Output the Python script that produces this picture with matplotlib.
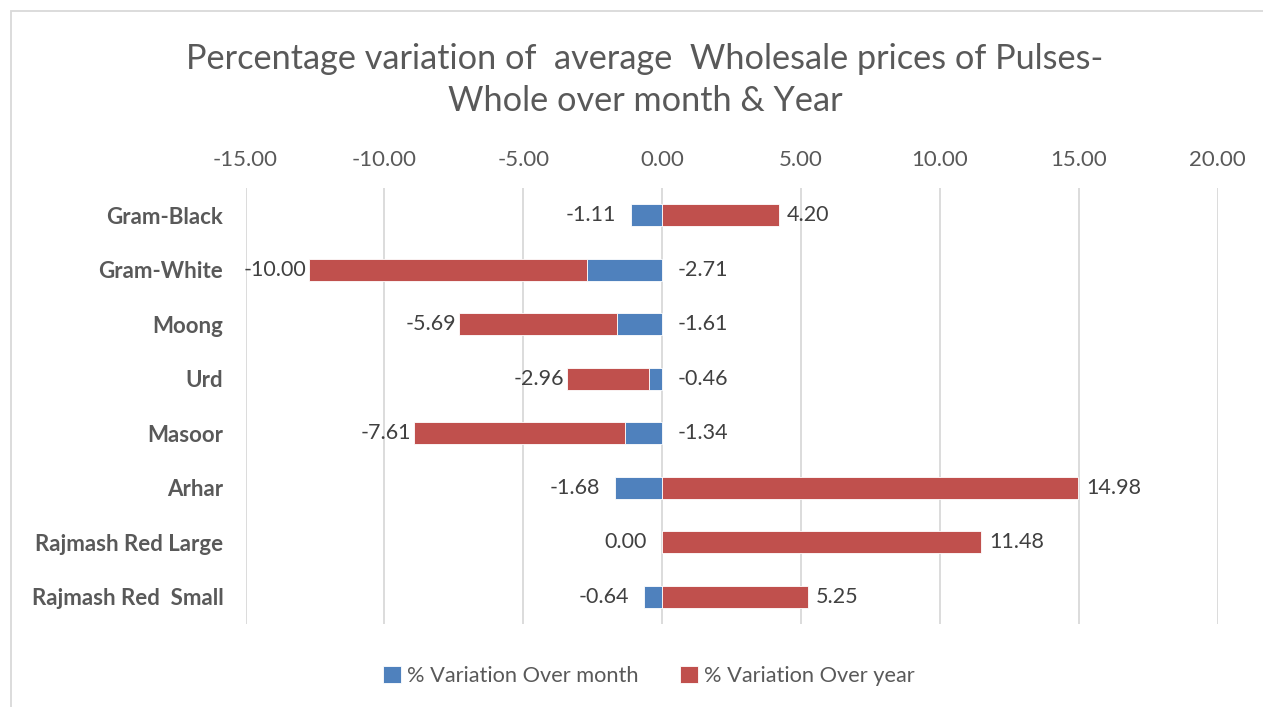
import matplotlib
matplotlib.use("Agg")
import matplotlib.pyplot as plt
from matplotlib.patches import Rectangle
import numpy as np

# data
categories = ["Gram-Black", "Gram-White", "Moong", "Urd", "Masoor",
              "Arhar", "Rajmash Red Large", "Rajmash Red  Small"]
over_month = [-1.11, -2.71, -1.61, -0.46, -1.34, -1.68, 0.00, -0.64]
over_year = [4.20, -10.00, -5.69, -2.96, -7.61, 14.98, 11.48, 5.25]
xticks = [-15, -10, -5, 0, 5, 10, 15, 20]

BLUE = "#4F81BD"
RED = "#C0504D"
GREY = "#595959"
LBL = "#404040"

plt.rcParams["font.family"] = ["Lato", "DejaVu Sans"]

W, H = 1263, 707
fig = plt.figure(figsize=(W / 100, H / 100), dpi=100)
ax = fig.add_axes([245.5 / W, 1 - 624 / H, (1217.6 - 245.5) / W, (624 - 188) / H])

# chart border (light grey, runs off the right and bottom edges)
fig.patches.append(Rectangle((11 / W, -0.05), 1.2, 1 - 11 / H + 0.05,
                             transform=fig.transFigure, fill=False,
                             edgecolor="#D9D9D9", linewidth=1.3))

y = np.arange(len(categories))
month = np.array(over_month)
year = np.array(over_year)

# excel-style stacking: negatives stack on negatives, positives from zero
year_left = np.where((year < 0) & (month < 0), month, 0.0)

ax.barh(y, month, height=0.4, color=BLUE, edgecolor="white", linewidth=0.6,
        label="% Variation Over month", zorder=3)
ax.barh(y, year, left=year_left, height=0.4, color=RED, edgecolor="white",
        linewidth=0.6, label="% Variation Over year", zorder=3)

fs = 16
dfs = 15.5
for i in range(len(categories)):
    m, yr = month[i], year[i]
    end = year_left[i] + yr
    if yr >= 0:
        ax.annotate(f"{yr:.2f}", (end, i), xytext=(6, 0), textcoords="offset points",
                    ha="left", va="center", fontsize=dfs, color=LBL)
        ax.annotate(f"{m:.2f}", (min(m, 0), i), xytext=(-11, 0), textcoords="offset points",
                    ha="right", va="center", fontsize=dfs, color=LBL)
    else:
        ax.annotate(f"{yr:.2f}", (end, i), xytext=(-2, 0), textcoords="offset points",
                    ha="right", va="center", fontsize=dfs, color=LBL)
        ax.annotate(f"{m:.2f}", (0, i), xytext=(11, 0), textcoords="offset points",
                    ha="left", va="center", fontsize=dfs, color=LBL)

ax.set_xlim(-15, 20)
ax.set_ylim(len(categories) - 0.5, -0.5)
ax.set_xticks(xticks)
ax.set_xticklabels([f"{v:.2f}" for v in xticks], fontsize=fs, color=GREY)
ax.xaxis.tick_top()
ax.tick_params(axis="x", length=0, pad=13)
ax.set_yticks(y)
ax.set_yticklabels(categories, fontsize=fs, fontweight="bold", color=GREY)
ax.tick_params(axis="y", length=0, pad=16)
ax.grid(axis="x", color="#D9D9D9", linewidth=1.3, zorder=0)
for s in ax.spines.values():
    s.set_visible(False)

fig.text(645 / W, 1 - 80 / H,
         "Percentage variation of  average  Wholesale prices of Pulses-\nWhole over month & Year",
         ha="center", va="center", fontsize=24.7, color=GREY, linespacing=1.4)

fig.legend(loc="center", bbox_to_anchor=(649 / W, 1 - 676 / H), ncol=2, frameon=False,
           fontsize=15.7, handlelength=0.8, handleheight=0.8, handletextpad=0.3,
           columnspacing=1.9, labelcolor=GREY)

fig.savefig("out.png", dpi=100)
